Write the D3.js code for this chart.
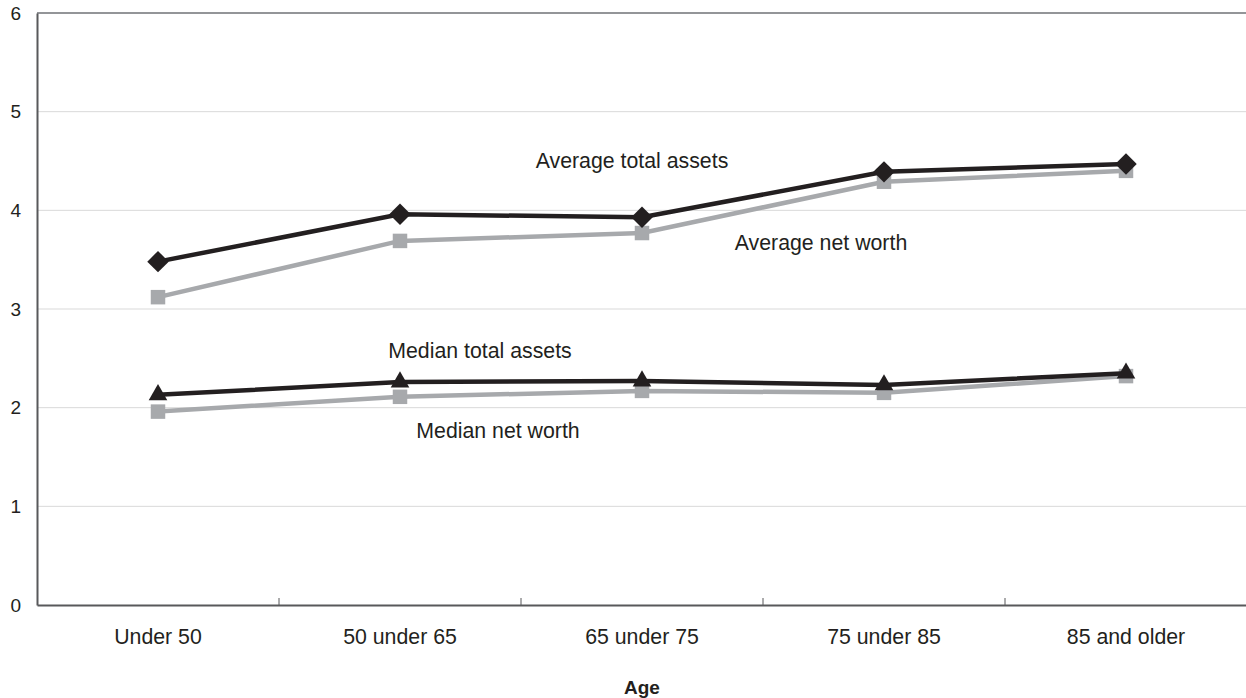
<!DOCTYPE html>
<html><head><meta charset="utf-8">
<script src="https://cdn.jsdelivr.net/npm/d3@7"></script>
<style>body{margin:0;background:#fff;}svg{display:block;font-family:"Liberation Sans",Arial,sans-serif;}</style>
</head><body>
<svg id="c" width="1246" height="698"></svg>
<script>
const categories = ["Under 50","50 under 65","65 under 75","75 under 85","85 and older"];
const avgTotalAssets = [3.48, 3.96, 3.93, 4.39, 4.47];
const avgNetWorth = [3.12, 3.69, 3.77, 4.29, 4.40];
const medTotalAssets = [2.13, 2.26, 2.27, 2.23, 2.35];
const medNetWorth = [1.96, 2.11, 2.17, 2.15, 2.32];
const yTicks = [0,1,2,3,4,5,6];
const xTitle = "Age";

const FS = 21.3;
const svg = d3.select("#c");
const L = 37, R = 1247, T = 13, B = 605;
const x = d3.scaleBand().domain(categories).range([L, R]);
const y = d3.scaleLinear().domain([0, 6]).range([B, T]);

// gridlines
svg.append("g").selectAll("line").data(yTicks.filter(d => d > 0 && d < 6)).join("line")
  .attr("x1", L).attr("x2", R).attr("y1", d => y(d)).attr("y2", d => y(d))
  .attr("stroke", "#d9d9d9").attr("stroke-width", 1);
// top border
svg.append("line").attr("x1", L).attr("x2", R).attr("y1", y(6)).attr("y2", y(6))
  .attr("stroke", "#939598").attr("stroke-width", 2);

// y axis
const ya = svg.append("g").attr("transform", `translate(${L},0)`)
  .call(d3.axisLeft(y).tickValues(yTicks).tickSize(0).tickPadding(16).tickFormat(d3.format("d")));
ya.select(".domain").attr("stroke", "#58595b").attr("stroke-width", 2);
ya.selectAll("text").attr("font-size", 19).attr("fill", "#231f20").attr("font-family", "Liberation Sans, Arial, sans-serif");

// x axis
const xa = svg.append("g").attr("transform", `translate(0,${B})`)
  .call(d3.axisBottom(x).tickSize(0).tickPadding(24));
xa.select(".domain").attr("stroke", "#58595b").attr("stroke-width", 2);
xa.selectAll("text").attr("font-size", FS).attr("fill", "#231f20").attr("font-family", "Liberation Sans, Arial, sans-serif");
// boundary tick marks (pointing up)
svg.append("g").selectAll("line").data(categories.slice(1)).join("line")
  .attr("x1", d => x(d)).attr("x2", d => x(d)).attr("y1", B).attr("y2", B - 7)
  .attr("stroke", "#58595b").attr("stroke-width", 1);

svg.append("text").attr("x", (L + R) / 2).attr("y", 694).attr("text-anchor", "middle")
  .attr("font-size", 19).attr("font-weight", "bold").attr("fill", "#231f20").text(xTitle);

const cx = d => x(d) + x.bandwidth() / 2;
const line = d3.line().x((d, i) => cx(categories[i])).y(d => y(d));

const series = [
  {data: avgNetWorth, color: "#a7a9ac", sym: d3.symbolSquare, size: 210, rot: 0},
  {data: avgTotalAssets, color: "#231f20", sym: d3.symbolSquare, size: 230, rot: 45},
  {data: medNetWorth, color: "#a7a9ac", sym: d3.symbolSquare, size: 210, rot: 0},
  {data: medTotalAssets, color: "#231f20", sym: d3.symbolTriangle, size: 150, rot: 0},
];
series.forEach(s => {
  svg.append("path").attr("d", line(s.data)).attr("fill", "none")
    .attr("stroke", s.color).attr("stroke-width", 4.5);
  svg.append("g").selectAll("path").data(s.data).join("path")
    .attr("transform", (d, i) => `translate(${cx(categories[i])},${y(d)}) rotate(${s.rot})`)
    .attr("d", d3.symbol().type(s.sym).size(s.size)).attr("fill", s.color);
});

const labels = [
  {t: "Average total assets", x: 632, y: 168},
  {t: "Average net worth", x: 821, y: 250},
  {t: "Median total assets", x: 480, y: 358},
  {t: "Median net worth", x: 498, y: 438},
];
svg.append("g").selectAll("text").data(labels).join("text")
  .attr("x", d => d.x).attr("y", d => d.y).attr("text-anchor", "middle")
  .attr("font-size", FS).attr("fill", "#231f20").text(d => d.t);
</script>
</body></html>
